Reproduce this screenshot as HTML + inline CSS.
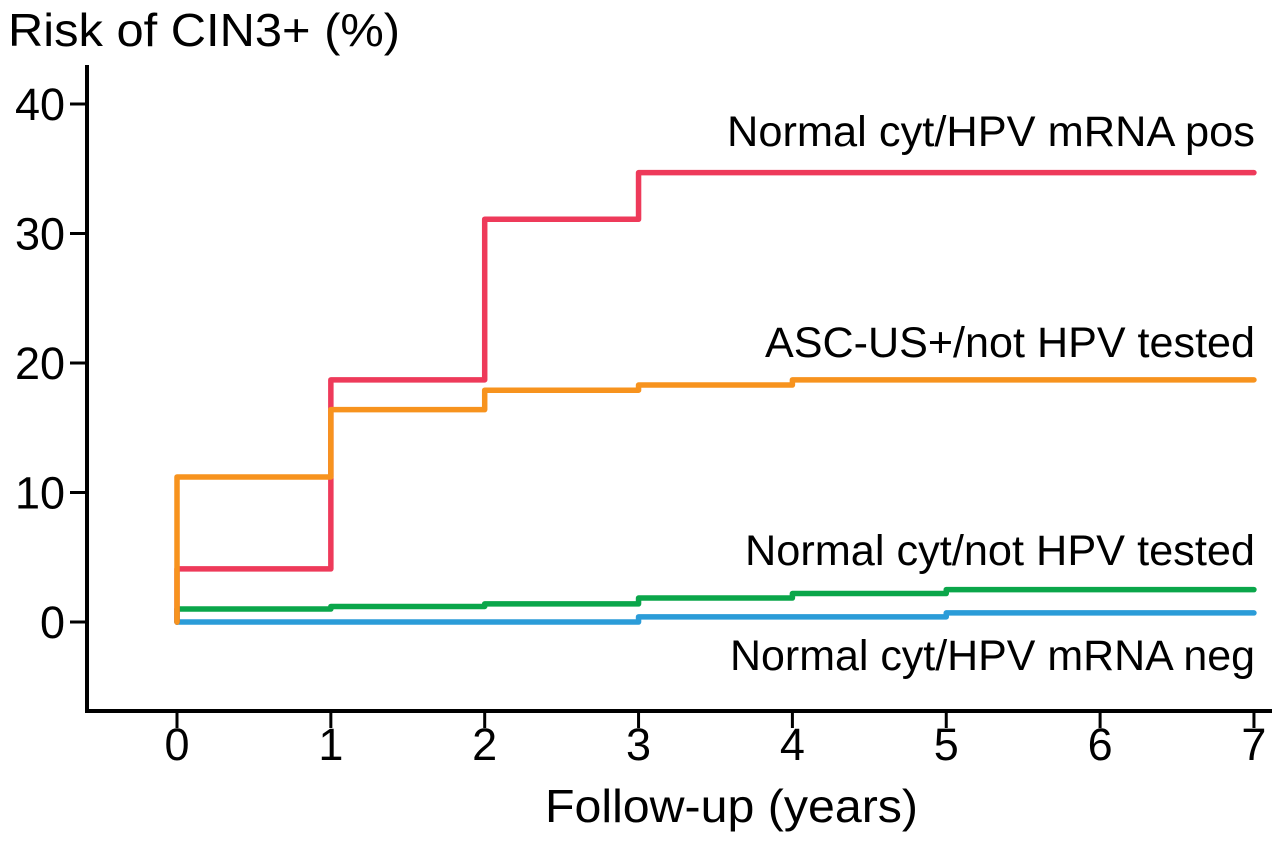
<!DOCTYPE html>
<html><head><meta charset="utf-8"><style>
html,body{margin:0;padding:0;background:#fff;}
svg{display:block;font-family:"Liberation Sans",Arial,sans-serif;}
</style></head><body>
<svg id="chart" width="1283" height="842">
<text x="8" y="46" font-size="46" textLength="392" lengthAdjust="spacingAndGlyphs">Risk of CIN3+ (%)</text>
<text x="545" y="822" font-size="46" textLength="373" lengthAdjust="spacingAndGlyphs">Follow-up (years)</text>
<g id="axes"></g><g id="series"></g><g id="labels"></g>
</svg>
<script>
const xTicks=[0,1,2,3,4,5,6,7];
const yTicks=[0,10,20,30,40];
const redX=[0,0,1,2,3,7];
const redY=[0,4.1,18.7,31.1,34.7,34.7];
const orangeX=[0,0,1,2,3,4,7];
const orangeY=[0,11.2,16.4,17.9,18.3,18.7,18.7];
const greenX=[0,0,1,2,3,4,5,7];
const greenY=[0,1.0,1.2,1.4,1.85,2.2,2.5,2.5];
const blueX=[0,3,5,7];
const blueY=[0,0.4,0.7,0.7];
const seriesNames=["Normal cyt/HPV mRNA pos","ASC-US+/not HPV tested","Normal cyt/not HPV tested","Normal cyt/HPV mRNA neg"];
const NS="http://www.w3.org/2000/svg";
const sx=v=>177+v*153.85, sy=v=>622-v*12.95;
function mk(tag,attrs,parent){const e=document.createElementNS(NS,tag);for(const k in attrs)e.setAttribute(k,attrs[k]);parent.appendChild(e);return e;}
const axes=document.getElementById('axes');
let a=mk('path',{d:'M87,65 V711 H1272',fill:'none',stroke:'#000','stroke-width':4},axes);


xTicks.forEach(t=>{
 let l=mk('line',{x1:sx(t),x2:sx(t),y1:711,y2:728,stroke:'#000','stroke-width':3},axes);
 
 
 let tx=mk('text',{x:sx(t),y:760,'font-size':45,'text-anchor':'middle'},axes);tx.textContent=t;
 
 
});
yTicks.forEach(t=>{
 let l=mk('line',{x1:70,x2:87,y1:sy(t),y2:sy(t),stroke:'#000','stroke-width':3},axes);
 
 
 let tx=mk('text',{x:65,y:sy(t)+16,'font-size':45,'text-anchor':'end'},axes);tx.textContent=t;
 
 
});
const sg=document.getElementById('series');
function step(xs,ys,color,name){
 let d='M'+sx(xs[0])+','+sy(ys[0]);
 for(let i=1;i<xs.length;i++){d+=' H'+sx(xs[i])+' V'+sy(ys[i]);}
 let p=mk('path',{d:d,fill:'none',stroke:color,'stroke-width':5.5,'stroke-linejoin':'round','stroke-linecap':'round'},sg);
 
 
}
step(blueX,blueY,'#2b9cd8','line-mrna-neg');
step(greenX,greenY,'#0aa64a','line-normal-not-tested');
step(redX,redY,'#ee3a5a','line-mrna-pos');
step(orangeX,orangeY,'#f7931e','line-ascus-not-tested');
const lg=document.getElementById('labels');
const labelY=[146,357,565,670];
const labelW=[528,490,510,525];
const labelNames=['label-mrna-pos','label-ascus','label-normal-not-tested','label-mrna-neg'];
seriesNames.forEach((s,i)=>{
 let t=mk('text',{x:1255-labelW[i],y:labelY[i],'font-size':43,textLength:labelW[i],lengthAdjust:'spacingAndGlyphs'},lg);t.textContent=s;
 
 
});
</script>
</body></html>
